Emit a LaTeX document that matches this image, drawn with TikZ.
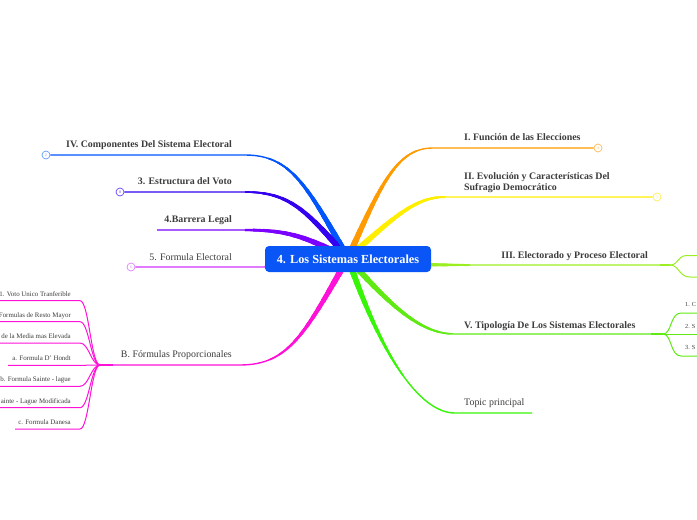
\documentclass[tikz,border=0pt]{standalone}
\usepackage{fontspec}
\setmainfont{Liberation Serif}
\definecolor{txt}{HTML}{3C3C3C}
\definecolor{cCenter}{HTML}{0A55F5}
\definecolor{cOrange}{HTML}{FF9A00}
\definecolor{cYellow}{HTML}{FFEE00}
\definecolor{cIII}{HTML}{9BEE22}
\definecolor{cV}{HTML}{60EA14}
\definecolor{cT}{HTML}{38F508}
\definecolor{cIV}{HTML}{0055FF}
\definecolor{c3}{HTML}{3300F0}
\definecolor{c4}{HTML}{7A00FF}
\definecolor{c5}{HTML}{D033FF}
\definecolor{cB}{HTML}{FF11D8}
\definecolor{kIVc}{HTML}{6699FF}
\definecolor{k3c}{HTML}{6644FF}
\definecolor{k5c}{HTML}{E080FF}
\definecolor{kIc}{HTML}{FFBB55}
\definecolor{kIIc}{HTML}{FFEE55}
\newcommand\taper[4]{%
  \foreach \tapw/\tapl in {6.0/20, 5.6/30, 5.2/40, 4.8/50, 4.4/60, 4.0/70, 3.6/80, 3.2/90, 2.8/100, 2.4/110, 2.0/120, 1.7/130}{%
    \draw[#1, line width=\tapw pt, dash pattern=on \tapl pt off 3000pt] (hub) .. controls #2 and #3 .. (#4);}}
\begin{document}
\begin{tikzpicture}[x=1pt,y=-1pt,
  lbl/.style={inner sep=0pt, text=txt, font=\fontsize{9.9}{11}\selectfont},
  blbl/.style={inner sep=0pt, text=txt, font=\fontsize{9.9}{11}\selectfont\bfseries},
  slbl/.style={inner sep=0pt, text=txt, font=\fontsize{6.9}{7}\selectfont},
  tlbl/.style={inner sep=0pt, text=txt, font=\fontsize{6.2}{6.5}\selectfont},
  badge/.style={circle, draw=#1, fill=white, line width=0.7pt, inner sep=0pt, minimum size=8pt, text=#1, font=\fontsize{4}{4}\selectfont},
  conn/.style={line width=1.4pt},
  sub/.style={line width=1pt},
]
\useasboundingbox (0,0) rectangle (697,520);
\clip (0,0) rectangle (697,520);

\coordinate (hub) at (348,258);
% bends
\coordinate (bI) at (433,148);
\coordinate (bII) at (445,197);
\coordinate (bIII) at (470,265);
\coordinate (fIII) at (670,265);
\coordinate (bV) at (455,334);
\coordinate (fV) at (663,334);
\coordinate (bT) at (455,413);
\coordinate (eT) at (532,413);
\coordinate (bIV) at (245,155);
\coordinate (b3) at (245,192);
\coordinate (b4) at (245,230);
\coordinate (e4) at (157,230);
\coordinate (b5) at (265,267);
\coordinate (bB) at (240,365);
\coordinate (bfan2) at (113,365);
\coordinate (bfan) at (100,365);

% badges
\node[badge=kIVc] (kIV) at (46,155) {2};
\node[badge=k3c] (k3) at (120,192) {8};
\node[badge=k5c] (k5) at (131,267) {6};
\node[badge=kIc] (kI) at (598,148) {4};
\node[badge=kIIc] (kII) at (657,197) {5};

% tapered branch roots
\taper{cOrange}{(382,181)}{(398,148)}{bI}
\taper{cYellow}{(396,215)}{(416,197)}{bII}
\taper{cIII}{(380,264)}{(420,265)}{bIII}
\taper{cV}{(395,311)}{(423,334)}{bV}
\taper{cT}{(385,366)}{(423,413)}{bT}
\taper{cIV}{(307,186)}{(291,155)}{bIV}
\taper{c3}{(307,212)}{(291,192)}{b3}
\taper{c4}{(307,238)}{(291,230)}{b4}
\taper{c5}{(320,262)}{(300,267)}{b5}
\taper{cB}{(305,333)}{(289,365)}{bB}

% connectors
\draw[cOrange, conn] (hub) .. controls (382,181) and (398,148) .. (bI) -- (kI);
\draw[cYellow, conn] (hub) .. controls (396,215) and (416,197) .. (bII) -- (kII);
\draw[cIII, conn] (hub) .. controls (380,264) and (420,265) .. (bIII) -- (fIII);
\draw[cV, conn] (hub) .. controls (395,311) and (423,334) .. (bV) -- (fV);
\draw[cT, conn] (hub) .. controls (385,366) and (423,413) .. (bT) -- (eT);
\draw[cIV, conn] (hub) .. controls (307,186) and (291,155) .. (bIV) -- (kIV);
\draw[c3, conn] (hub) .. controls (307,212) and (291,192) .. (b3) -- (k3);
\draw[c4, conn] (hub) .. controls (307,238) and (291,230) .. (b4) -- (e4);
\draw[c5, conn] (hub) .. controls (320,262) and (300,267) .. (b5) -- (k5);
\draw[cB, conn] (hub) .. controls (305,333) and (289,365) .. (bB) -- (bfan);

% III fan
\coordinate (IIIa) at (700,255.5);
\coordinate (IIIb) at (700,277);
\draw[cIII, sub] (fIII) .. controls (679,265) and (677,255.5) .. (687,255.5) -- (IIIa);
\draw[cIII, sub] (fIII) .. controls (679,265) and (679,277) .. (690,277) -- (IIIb);
\draw[cIII, line width=2.4pt] (660,265) -- (fIII);

% V fan
\coordinate (Va) at (700,313);
\coordinate (Vb) at (700,334);
\coordinate (Vc) at (700,356);
\draw[cV, sub] (fV) .. controls (672,334) and (670,313) .. (681,313) -- (Va);
\draw[cV, sub] (fV) -- (Vb);
\draw[cV, sub] (fV) .. controls (672,334) and (670,356) .. (681,356) -- (Vc);
\draw[cV, line width=2.4pt] (651,334) -- (fV);
\node[tlbl, anchor=base west] (v1) at (685,306.5) {1. C};
\node[tlbl, anchor=base west] (v2) at (685,328) {2. S};
\node[tlbl, anchor=base west] (v3) at (685,349.5) {3. S};

% B fan
\foreach \yy/\lab/\xe [count=\k] in {300.7/{1. Voto Unico Tranferible}/-5,
  321.7/{Formulas de Resto Mayor}/-5,
  343/{de la Media mas Elevada}/-5,
  365.3/{a. Formula D' Hondt}/8,
  386.3/{b. Formula Sainte - lague}/-5,
  407.7/{ainte - Lague Modificada}/-5,
  429/{c. Formula Danesa}/15}{
  \coordinate (bs\k) at (80,\yy);
  \coordinate (be\k) at (\xe,\yy);
  \draw[cB, sub] (bfan) .. controls (91,365) and (89,\yy) .. (bs\k) -- (be\k);
  \node[slbl, anchor=base east] (bl\k) at (71,\yy-4.6) {\lab};
}
\draw[cB, line width=2.6pt] (bfan2) -- (bfan);

% center
\node[fill=cCenter, rounded corners=4pt, minimum width=166pt, minimum height=26pt, text=white, inner sep=0pt,
  font=\fontsize{12.3}{13}\selectfont\bfseries] (center) at (348,259) {4. Los Sistemas Electorales};

% labels
\node[blbl, anchor=base west] (lI) at (464,140) {I. Función de las Elecciones};
\node[blbl, anchor=base west, align=left] (lII) at (464,190) {II. Evolución y Características Del\\Sufragio Democrático};
\node[blbl, anchor=base east] (lIII) at (648,258) {III. Electorado y Proceso Electoral};
\node[blbl, anchor=base west] (lV) at (464,328) {V. Tipología De Los Sistemas Electorales};
\node[lbl, anchor=base west] (lT) at (464,405) {Topic principal};
\node[blbl, anchor=base east] (lIV) at (232,147) {IV. Componentes Del Sistema Electoral};
\node[blbl, anchor=base east] (l3) at (232,184) {3. Estructura del Voto};
\node[blbl, anchor=base east] (l4) at (232,222) {4.Barrera Legal};
\node[lbl, anchor=base east] (l5) at (232,260) {5. Formula Electoral};
\node[lbl, anchor=base east] (lB) at (232,357) {B. Fórmulas Proporcionales};
\end{tikzpicture}
\end{document}
